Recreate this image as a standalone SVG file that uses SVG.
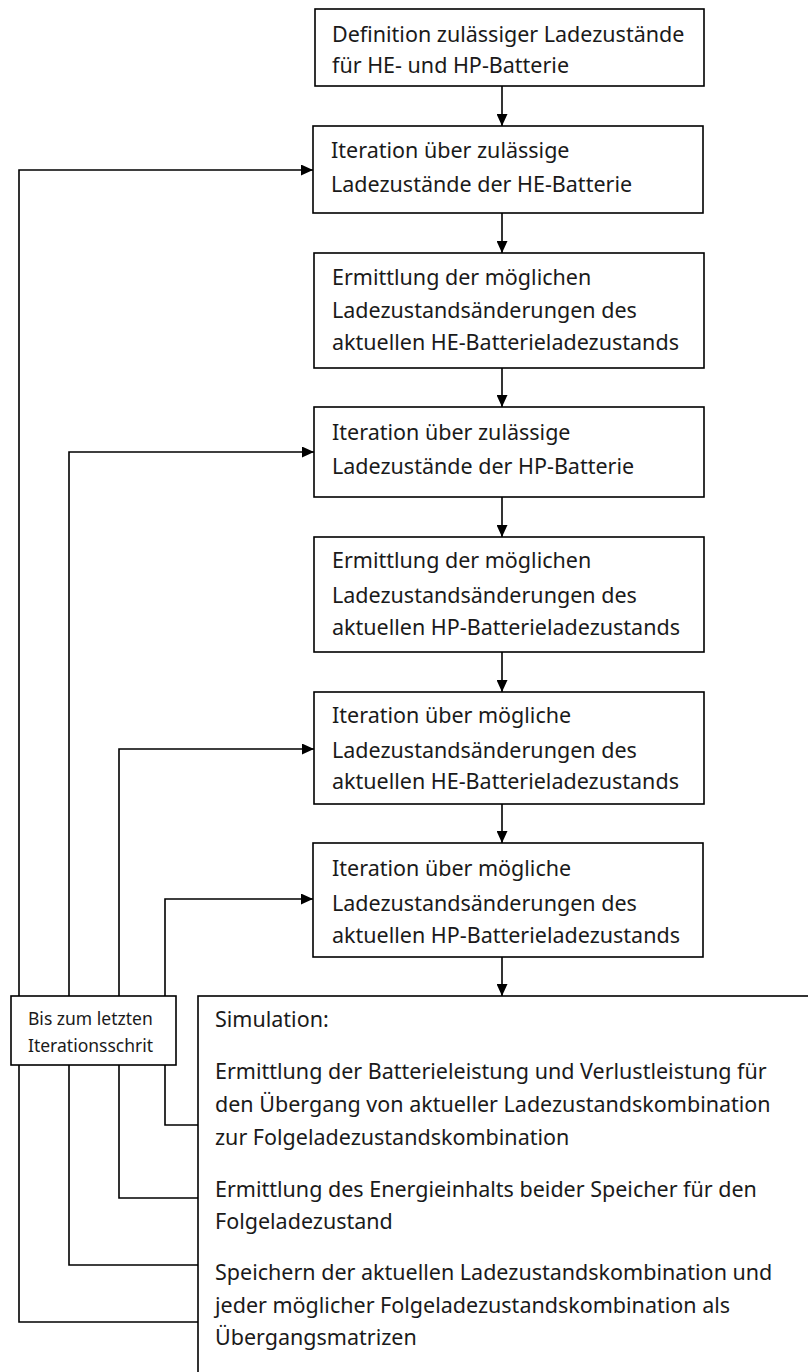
<svg xmlns="http://www.w3.org/2000/svg" width="808" height="1372" viewBox="0 0 808 1372">
<style>
  .box { fill: #ffffff; stroke: #000000; stroke-width: 1.6; }
  .t { font-family: "Noto Sans", "Open Sans", "Liberation Sans", sans-serif; font-size: 21.5px; fill: #1a1a1a; }
  .ts { font-family: "Noto Sans", "Open Sans", "Liberation Sans", sans-serif; font-size: 17.5px; fill: #1a1a1a; }
  .c { fill: none; stroke: #000000; stroke-width: 1.6; }
</style>
<defs>
  <marker id="ah" markerUnits="userSpaceOnUse" markerWidth="12" markerHeight="11" refX="12" refY="5.5" orient="auto">
    <path d="M0,0 L12,5.5 L0,11 z" fill="#000000"/>
  </marker>
</defs>
<rect width="808" height="1372" fill="#ffffff"/>

<g id="connectors">
  <line class="c" x1="502" y1="86" x2="502" y2="126" marker-end="url(#ah)"/>
  <line class="c" x1="502" y1="213" x2="502" y2="253" marker-end="url(#ah)"/>
  <line class="c" x1="502" y1="368" x2="502" y2="407" marker-end="url(#ah)"/>
  <line class="c" x1="502" y1="497" x2="502" y2="537" marker-end="url(#ah)"/>
  <line class="c" x1="502" y1="652" x2="502" y2="692" marker-end="url(#ah)"/>
  <line class="c" x1="502" y1="804" x2="502" y2="843" marker-end="url(#ah)"/>
  <line class="c" x1="502" y1="957" x2="502" y2="996" marker-end="url(#ah)"/>
  <polyline class="c" points="198,1322 19,1322 19,170 313,170" marker-end="url(#ah)"/>
  <polyline class="c" points="198,1265 69,1265 69,452 314,452" marker-end="url(#ah)"/>
  <polyline class="c" points="198,1198 119,1198 119,749 314,749" marker-end="url(#ah)"/>
  <polyline class="c" points="198,1125 165,1125 165,899 313,899" marker-end="url(#ah)"/>
</g>

<g id="n1">
  <rect class="box" x="315" y="9" width="389" height="77"/>
  <text class="t" x="332" y="42">Definition zulässiger Ladezustände</text>
  <text class="t" x="332" y="73">für HE- und HP-Batterie</text>
</g>
<g id="n2">
  <rect class="box" x="313" y="126" width="390" height="87"/>
  <text class="t" x="331" y="158">Iteration über zulässige</text>
  <text class="t" x="331" y="192">Ladezustände der HE-Batterie</text>
</g>
<g id="n3">
  <rect class="box" x="314" y="253" width="390" height="115"/>
  <text class="t" x="332" y="285">Ermittlung der möglichen</text>
  <text class="t" x="332" y="318">Ladezustandsänderungen des</text>
  <text class="t" x="332" y="350">aktuellen HE-Batterieladezustands</text>
</g>
<g id="n4">
  <rect class="box" x="314" y="407" width="390" height="90"/>
  <text class="t" x="332" y="440">Iteration über zulässige</text>
  <text class="t" x="332" y="474">Ladezustände der HP-Batterie</text>
</g>
<g id="n5">
  <rect class="box" x="314" y="537" width="390" height="115"/>
  <text class="t" x="332" y="568">Ermittlung der möglichen</text>
  <text class="t" x="332" y="603">Ladezustandsänderungen des</text>
  <text class="t" x="332" y="635">aktuellen HP-Batterieladezustands</text>
</g>
<g id="n6">
  <rect class="box" x="314" y="692" width="390" height="112"/>
  <text class="t" x="332" y="723">Iteration über mögliche</text>
  <text class="t" x="332" y="758">Ladezustandsänderungen des</text>
  <text class="t" x="332" y="789">aktuellen HE-Batterieladezustands</text>
</g>
<g id="n7">
  <rect class="box" x="313" y="843" width="390" height="114"/>
  <text class="t" x="332" y="876">Iteration über mögliche</text>
  <text class="t" x="332" y="911">Ladezustandsänderungen des</text>
  <text class="t" x="332" y="943">aktuellen HP-Batterieladezustands</text>
</g>
<g id="n8">
  <rect class="box" x="11" y="996" width="165" height="69"/>
  <text class="ts" x="28" y="1025">Bis zum letzten</text>
  <text class="ts" x="28" y="1052">Iterationsschrit</text>
</g>
<g id="n9">
  <rect class="box" x="198" y="996" width="640" height="420"/>
  <text class="t" x="215" y="1027">Simulation:</text>
  <text class="t" x="215" y="1079">Ermittlung der Batterieleistung und Verlustleistung für</text>
  <text class="t" x="215" y="1112">den Übergang von aktueller Ladezustandskombination</text>
  <text class="t" x="215" y="1145">zur Folgeladezustandskombination</text>
  <text class="t" x="215" y="1197">Ermittlung des Energieinhalts beider Speicher für den</text>
  <text class="t" x="215" y="1229">Folgeladezustand</text>
  <text class="t" x="215" y="1280">Speichern der aktuellen Ladezustandskombination und</text>
  <text class="t" x="215" y="1313">jeder möglicher Folgeladezustandskombination als</text>
  <text class="t" x="215" y="1345">Übergangsmatrizen</text>
</g>
</svg>
